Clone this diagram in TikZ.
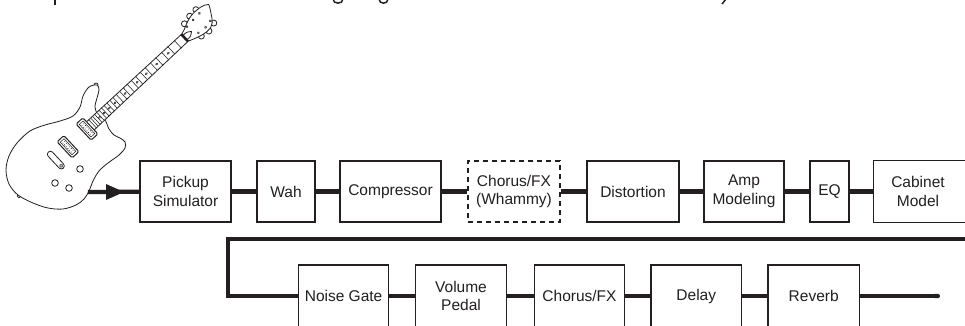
\documentclass[tikz,border=0pt]{standalone}
\usepackage{fontspec}
\setmainfont{Liberation Sans}
\usetikzlibrary{arrows.meta}
\definecolor{ink}{RGB}{35,31,32}
\begin{document}
\begin{tikzpicture}[x=1pt,y=-1pt,color=ink,
  blk/.style={draw, fill=white, line width=1.3pt, minimum height=61pt, inner sep=0pt,
    align=center, font=\fontsize{15.5}{18.5}\selectfont},
  dsh/.style={dash pattern=on 5pt off 4pt},
  sig/.style={line width=4.2pt},
  gline/.style={line width=0.8pt, line join=round},
  fret/.style={line width=0.55pt},
]
\useasboundingbox (0,0) rectangle (965,325);

% cropped caption descenders at the top edge
\draw[line width=1.6pt] (55,-1) -- (55,5);
\draw[line width=1.5pt] (333,-1) .. controls (333,4.5) and (343,4.5) .. (343,-1);
\draw[line width=1.5pt] (379,-1) .. controls (379,4.5) and (388,4.5) .. (388,-1);
\draw[line width=1.5pt] (726,-1) -- (722,4);

% ---------- guitar ----------
% strap button
\draw[gline, fill=white] (96,85) circle (2);
% jack
\draw[gline, fill=white] (19,196) circle (1.9);
% body
\draw[gline, fill=white] plot[smooth cycle, tension=0.55] coordinates {
 (97,85) (99,90) (97,98) (95,107) (98,115) (105,120) (109,129) (114,135)
 (120,138) (125,142) (125,148) (119,155) (108,163) (99,171) (93,181)
 (89,191) (84,199) (76,205) (63,209) (48,208) (33,203) (18,195) (9,184)
 (6,170) (9,156) (17,143) (30,131) (45,125) (60,121) (73,116) (80,107)
 (83,96) (89,87)};
% knobs
\draw[gline] (80,169) circle (3.3);
\draw[gline] (55,183) circle (3.3);
\draw[gline] (69,188) circle (3.3);

\begin{scope}[shift={(87,129)}, rotate=43]
  % tuner buttons
  \foreach \s/\t in {143/-10.5, 152/-12.5, 161/-13, 147/10, 156/11.5, 165/9}
    \draw[gline, fill=white] (\s,\t) circle (3);
  % headstock
  \draw[gline, fill=white] (134,-4.8) .. controls (140,-6) and (146,-11) .. (155,-12)
     .. controls (163,-12.5) and (170,-12) .. (174,-8) -- (172,-4)
     .. controls (168,2) and (166,8) .. (160,10)
     .. controls (152,12) and (142,8) .. (134,4.8) -- cycle;
  \foreach \s/\t in {143/-6.5, 152/-7.5, 161/-8, 147/5.5, 156/6.5, 164/5}
    \draw[line width=0.4pt, fill=ink!60] (\s,\t) circle (1.1);
  % truss rod cover
  \draw[gline] (134.5,-3) .. controls (139,-3) .. (143,0) .. controls (139,3) .. (134.5,3);
  % neck
  \draw[gline, fill=white] (3,-5.6) -- (133.6,-4.8) -- (133.6,4.8) -- (3,5.6) -- cycle;
  \foreach \n in {1,...,24} {
    \pgfmathsetmacro\fs{133.6-168*(1-pow(2,-\n/12))}
    \draw[fret] (\fs,-5.3) -- (\fs,5.3);
  }
  \foreach \n in {3,5,7,9,12,15,17,19,21} {
    \pgfmathsetmacro\fa{133.6-168*(1-pow(2,-(\n-1)/12))}
    \pgfmathsetmacro\fb{133.6-168*(1-pow(2,-\n/12))}
    \draw[line width=0.4pt, fill=ink!50] ({(\fa+\fb)/2},0) ellipse (1.3 and 0.9);
  }
  % nut
  \draw[line width=2.6pt] (133.6,-5) -- (133.6,5);
  % pickups
  \foreach \ps in {0,-26} {
    \draw[line width=1pt, fill=white, rounded corners=1.5pt] (\ps-4.6,-11) rectangle (\ps+4.6,11);
    \draw[line width=0.5pt] (\ps-2.6,-8.6) rectangle (\ps+2.6,8.6);
    \foreach \pt in {-6,-3.6,-1.2,1.2,3.6,6} {
      \fill (\ps-1.2,\pt) circle (0.6);
      \fill (\ps+1.2,\pt) circle (0.6);
    }
  }
  % selector switch
  \draw[gline, fill=white, rounded corners=2.9pt] (-47,-9.5) rectangle (-41,12.5);
  \draw[gline] (-44,9.3) circle (1.6);
\end{scope}

% ---------- top row ----------
\node[blk, minimum width=91pt] (pick) at (185.5,191.5) {Pickup\\Simulator};
\node[blk, minimum width=58pt] (wah)  at (286,191.5) {Wah};
\node[blk, minimum width=101pt] (comp) at (390.5,191.5) {Compressor};
\node[blk, dsh, minimum width=92pt] (chx) at (514,191.5) {Chorus/FX\\(Whammy)};
\node[blk, minimum width=92pt] (dist) at (633,191.5) {Distortion};
\node[blk, minimum width=80pt] (amp)  at (744,191.5) {Amp\\Modeling};
\node[blk, minimum width=39pt] (eq)   at (829.5,191.5) {EQ};
\node[blk, draw=none, fill=none, minimum width=88pt] (cab) at (918,191.5) {Cabinet\\Model};
\draw[line width=1.3pt] ([xshift=30pt]cab.north east) -- (cab.north west) -- (cab.south west) -- ([xshift=30pt]cab.south east);

\coordinate (gout) at (88,192);
\draw[sig] (gout) -- (pick);
\fill (106,184) -- (124,192) -- (106,200) -- cycle;
\draw[sig] (pick) -- (wah);
\draw[sig] (wah) -- (comp);
\draw[sig] (comp) -- (chx);
\draw[sig] (chx) -- (dist);
\draw[sig] (dist) -- (amp);
\draw[sig] (amp) -- (eq);
\draw[sig] (eq) -- (cab);

% ---------- bottom row ----------
\node[blk, minimum width=90pt, minimum height=62pt] (ng)  at (343.6,296) {Noise Gate};
\node[blk, minimum width=91pt, minimum height=62pt] (vol) at (461,296) {Volume\\Pedal};
\node[blk, minimum width=90pt, minimum height=62pt] (chb) at (579.5,296) {Chorus/FX};
\node[blk, minimum width=90.5pt, minimum height=62pt] (dly) at (696.3,296) {Delay};
\node[blk, minimum width=91.5pt, minimum height=62pt] (rev) at (813.7,296) {Reverb};

\coordinate (rin) at (975,239);
\coordinate (rc) at (228,239);
\coordinate (out) at (940,296);
\draw[sig] (rin) -- (rc) |- (ng.west);
\draw[sig] (ng) -- (vol);
\draw[sig] (vol) -- (chb);
\draw[sig] (chb) -- (dly);
\draw[sig] (dly) -- (rev);
\draw[sig, -{Round Cap[]}] (rev) -- (out);
\end{tikzpicture}
\end{document}
